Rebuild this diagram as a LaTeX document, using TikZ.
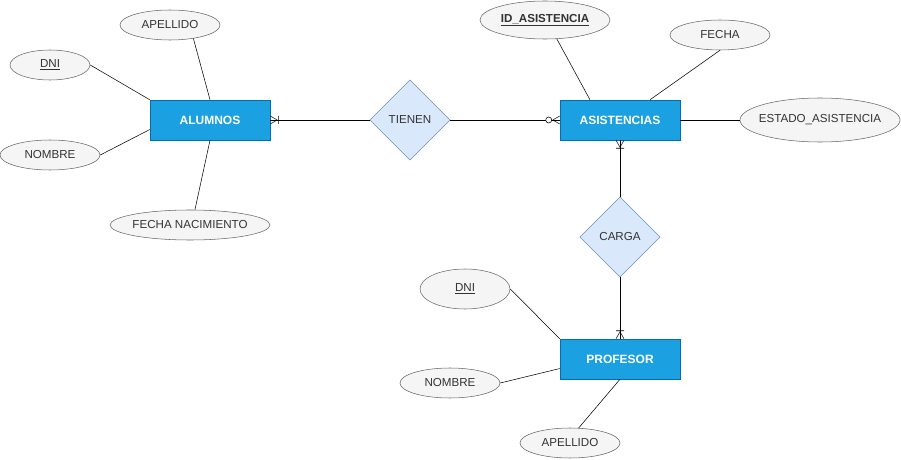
\documentclass[tikz,border=0pt]{standalone}
\usepackage{fontspec}
\setmainfont{Liberation Sans}
\usetikzlibrary{shapes,positioning,decorations.markings}
\definecolor{entfill}{HTML}{1BA1E2}
\definecolor{entdraw}{HTML}{006EAF}
\definecolor{relfill}{HTML}{DAE8FC}
\definecolor{reldraw}{HTML}{6C8EBF}
\definecolor{attfill}{HTML}{F5F5F5}
\definecolor{attdraw}{HTML}{666666}
\definecolor{txtgray}{HTML}{333333}

\begin{document}
\begin{tikzpicture}[x=0.75pt, y=-0.75pt, node distance=150pt,
  entity/.style = {draw=entdraw, fill=entfill, rectangle, minimum width=90pt, minimum height=30pt,
                   text=white, font=\fontsize{9}{11}\selectfont\bfseries, align=center},
  relation/.style = {draw=reldraw, fill=relfill, diamond, minimum width=60pt, minimum height=60pt,
                     inner sep=0pt, text=txtgray, font=\fontsize{8.7}{10}\selectfont},
  attrib/.style = {draw=attdraw, fill=attfill, ellipse, inner sep=0pt, text=txtgray,
                   font=\fontsize{8.7}{10}\selectfont},
  onemany/.style = {postaction={decorate, decoration={markings, mark=at position 1 with {
      \draw (-5.25pt,0) -- (0,3pt) (-5.25pt,0) -- (0,-3pt) (-6pt,-3pt) -- (-6pt,3pt);}}}},
  zeromany/.style = {postaction={decorate, decoration={markings, mark=at position 1 with {
      \draw (-5.25pt,0) -- (0,3pt) (-5.25pt,0) -- (0,-3pt);
      \draw[fill=white] (-8.25pt,0) circle (2.25pt);}}}}]

\useasboundingbox (0,0) rectangle (901,460);

% Entities and relations
\node (alumnos) [entity] at (210,120) {ALUMNOS};
\node (tienen) [relation, right of=alumnos] {TIENEN};
\node (asistencias) [entity, right of=tienen, xshift=7.5pt] {ASISTENCIAS};
\node (carga) [relation, below of=asistencias, yshift=62.25pt] {CARGA};
\node (profesor) [entity, below of=carga, yshift=58.5pt] {PROFESOR};

% Attributes
\node (dni1) [attrib, minimum width=60pt, minimum height=22.5pt] at (50,65) {\underline{DNI}};
\node (apellido1) [attrib, minimum width=75pt, minimum height=22.5pt] at (170,25) {APELLIDO};
\node (nombre1) [attrib, minimum width=75pt, minimum height=22.5pt] at (50,155) {NOMBRE};
\node (fechanac) [attrib, inner xsep=-1.7pt, minimum width=120pt, minimum height=22.5pt] at (190,225) {FECHA NACIMIENTO};
\node (idasis) [attrib, inner xsep=-2pt, minimum width=97.5pt, minimum height=28.5pt] at (545,20) {\bfseries\underline{ID\_ASISTENCIA}};
\node (fecha) [attrib, minimum width=75pt, minimum height=22.5pt] at (720,35) {FECHA};
\node (estado) [attrib, inner xsep=-3.7pt, minimum width=120pt, minimum height=33pt] at (820,120) {ESTADO\_ASISTENCIA};
\node (dni2) [attrib, minimum width=67.5pt, minimum height=30pt] at (465,289) {\underline{DNI}};
\node (nombre2) [attrib, minimum width=75pt, minimum height=22.5pt] at (450,383) {NOMBRE};
\node (apellido2) [attrib, minimum width=75pt, minimum height=22.5pt] at (570,443) {APELLIDO};

% Attribute lines
\draw (dni1.east) -- (alumnos.north west);
\draw (apellido1.-30) -- (alumnos.north);
\draw (nombre1.east) -- (alumnos.189);
\draw (fechanac.72) -- (alumnos.south);
\draw (idasis.-58) -- (asistencias.146);
\draw (fecha.south) -- (asistencias.34);
\draw (asistencias.east) -- (estado.west);
\draw (dni2.east) -- (profesor.north west);
\draw (nombre2.east) -- (profesor.189);
\draw (apellido2.60) -- (profesor.south);

% Relationship lines
\draw [onemany] (tienen) -- (alumnos);
\draw [zeromany] (tienen) -- (asistencias);
\draw [onemany] (carga) -- (asistencias);
\draw [onemany] (carga) -- (profesor);
\end{tikzpicture}
\end{document}
